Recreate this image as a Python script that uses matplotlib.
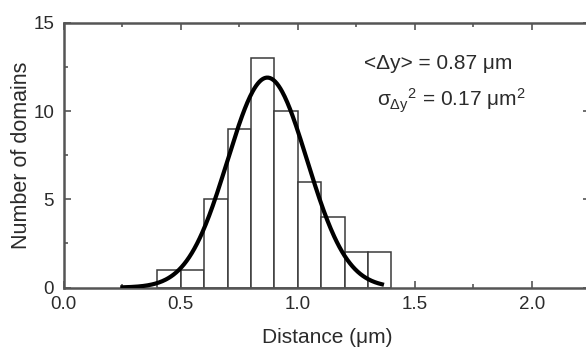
import numpy as np
import matplotlib
matplotlib.use('Agg')
import matplotlib.pyplot as plt
from matplotlib.ticker import MultipleLocator

plt.rcParams['font.family'] = ['Liberation Sans', 'DejaVu Sans']
plt.rcParams['mathtext.fontset'] = 'custom'
plt.rcParams['mathtext.rm'] = 'Liberation Sans'
plt.rcParams['mathtext.it'] = 'Liberation Sans'

# histogram of domain spacing
bin_left = [0.4, 0.5, 0.6, 0.7, 0.8, 0.9, 1.0, 1.1, 1.2, 1.3]
counts = [1, 1, 5, 9, 13, 10, 6, 4, 2, 2]
bin_width = 0.1

# gaussian fit
fit_mean = 0.87
fit_sigma = 0.17
fit_peak = 11.9
fit_range = (0.25, 1.36)

txt = '#2b2b2b'
edge = '#3a3a3a'

fig = plt.figure(figsize=(5.86, 3.52), dpi=100)
ax = fig.add_axes([0.109, 0.183, 0.898, 0.752])

ax.bar(bin_left, counts, width=bin_width, align='edge', facecolor='white',
       edgecolor=edge, linewidth=1.1, zorder=2)

xf = np.linspace(fit_range[0], fit_range[1], 300)
yf = fit_peak * np.exp(-(xf - fit_mean) ** 2 / (2 * fit_sigma ** 2))
ax.plot(xf, yf, color='black', linewidth=3.0, zorder=3)

ax.set_xlim(0, 2.25)
ax.set_ylim(0, 15)
ax.xaxis.set_major_locator(MultipleLocator(0.5))
ax.xaxis.set_minor_locator(MultipleLocator(0.25))
ax.yaxis.set_major_locator(MultipleLocator(5))
ax.yaxis.set_minor_locator(MultipleLocator(2.5))
ax.xaxis.set_major_formatter(matplotlib.ticker.FormatStrFormatter('%.1f'))

ax.tick_params(which='both', direction='in', top=True, right=True,
               colors='#555555', labelcolor=txt, labelsize=13.5, width=1.2)
ax.tick_params(which='major', length=5)
ax.tick_params(which='minor', length=3)
ax.tick_params(axis='x', pad=6)
ax.tick_params(axis='y', pad=7)
for s in ax.spines.values():
    s.set_color('#555555')
    s.set_linewidth(1.8)

ax.set_xlabel('Distance (μm)', fontsize=15, color=txt, labelpad=11)
ax.set_ylabel('Number of domains', fontsize=15.5, color=txt, labelpad=1)

ax.text(1.285, 12.7, '<Δy> = 0.87 μm', fontsize=15, color=txt, va='center')
ax.text(1.34, 10.6, r'$\sigma_{\Delta y}{}^{2}$ = 0.17 μm$^2$', fontsize=15,
        color=txt, va='center')

fig.savefig('out.png', dpi=100)
